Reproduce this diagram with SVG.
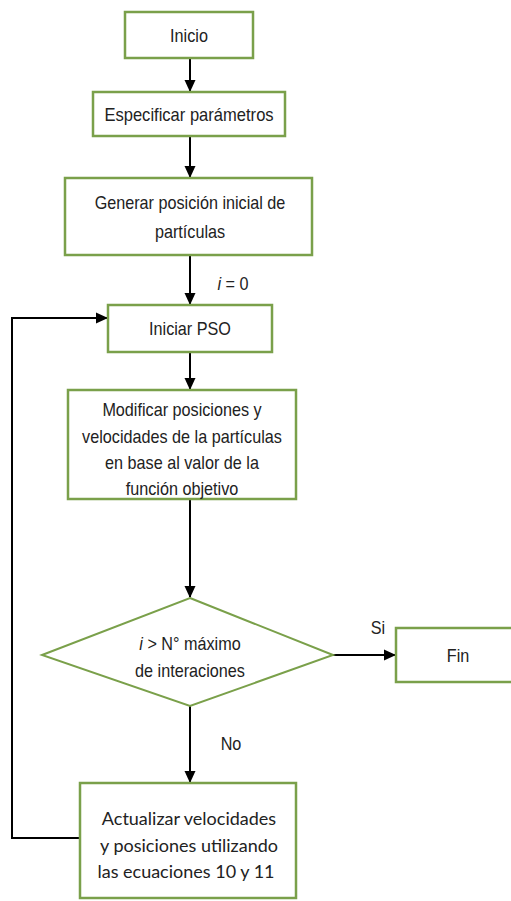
<svg xmlns="http://www.w3.org/2000/svg" width="511" height="901" viewBox="0 0 511 901">
<style>
.box{fill:#fff;stroke:#7aa04a;stroke-width:2.5}
.t{font-family:"Liberation Sans",Arial,sans-serif;font-size:18px;fill:#222;text-anchor:middle}
.c{font-family:Lato,"Open Sans",sans-serif;font-size:18px;fill:#222;text-anchor:middle}
.ln{fill:none;stroke:#000;stroke-width:2}
</style>
<defs>
<marker id="ah" markerWidth="12" markerHeight="12" refX="11" refY="6" orient="auto" markerUnits="userSpaceOnUse">
<path d="M0,0.5 L12,6 L0,11.5 Z" fill="#000"/>
</marker>
</defs>
<rect width="511" height="901" fill="#fff"/>
<g id="connectors">
<line class="ln" x1="190" y1="58" x2="190" y2="91" marker-end="url(#ah)"/>
<line class="ln" x1="190" y1="136" x2="190" y2="177" marker-end="url(#ah)"/>
<line class="ln" x1="190" y1="255" x2="190" y2="304" marker-end="url(#ah)"/>
<line class="ln" x1="190" y1="352" x2="190" y2="389" marker-end="url(#ah)"/>
<line class="ln" x1="190" y1="499" x2="190" y2="597" marker-end="url(#ah)"/>
<line class="ln" x1="333" y1="655" x2="395" y2="655" marker-end="url(#ah)"/>
<line class="ln" x1="190" y1="706" x2="190" y2="782" marker-end="url(#ah)"/>
<polyline class="ln" points="80,838 12,838 12,318 107,318" marker-end="url(#ah)"/>
<text class="t" transform="translate(233,290) scale(0.9,1)"><tspan font-style="italic">i</tspan> = 0</text>
<text class="t" transform="translate(378,634) scale(0.9,1)">Si</text>
<text class="t" transform="translate(231,750) scale(0.9,1)">No</text>
</g>
<g id="inicio"><rect class="box" x="125" y="12" width="128" height="46"/><text class="t" transform="translate(189,42) scale(0.9,1)">Inicio</text></g>
<g id="especificar"><rect class="box" x="93" y="92" width="192" height="44"/><text class="t" transform="translate(189,121) scale(0.92,1)">Especificar parámetros</text></g>
<g id="generar"><rect class="box" x="65" y="178" width="247" height="77"/><text class="t" transform="translate(190,209) scale(0.9,1)">Generar posición inicial de</text><text class="t" transform="translate(190,238) scale(0.9,1)">partículas</text></g>
<g id="iniciar"><rect class="box" x="108" y="305" width="164" height="47"/><text class="t" transform="translate(190,335) scale(0.9,1)">Iniciar PSO</text></g>
<g id="modificar"><rect class="box" x="68" y="390" width="228" height="109"/><text class="t" transform="translate(182,416) scale(0.9,1)">Modificar posiciones y</text><text class="t" transform="translate(182,443) scale(0.9,1)">velocidades de la partículas</text><text class="t" transform="translate(182,469) scale(0.9,1)">en base al  valor de la</text><text class="t" transform="translate(182,495) scale(0.9,1)">función objetivo</text></g>
<g id="decision"><polygon points="190,598 333,655 190,706 42,655" fill="#fff" stroke="#7aa04a" stroke-width="2"/><text class="t" transform="translate(190,650) scale(0.9,1)"><tspan font-style="italic">i</tspan> &gt; N° máximo</text><text class="t" transform="translate(190,677) scale(0.9,1)">de interaciones</text></g>
<g id="fin"><rect class="box" x="396" y="628" width="117" height="54"/><text class="t" transform="translate(458,662) scale(0.9,1)">Fin</text></g>
<g id="actualizar"><rect class="box" x="80" y="783" width="216" height="115"/><text class="c" x="189" y="825">Actualizar velocidades</text><text class="c" x="189" y="852">y posiciones utilizando</text><text class="c" x="186" y="878">las ecuaciones 10 y 11</text></g>
</svg>
